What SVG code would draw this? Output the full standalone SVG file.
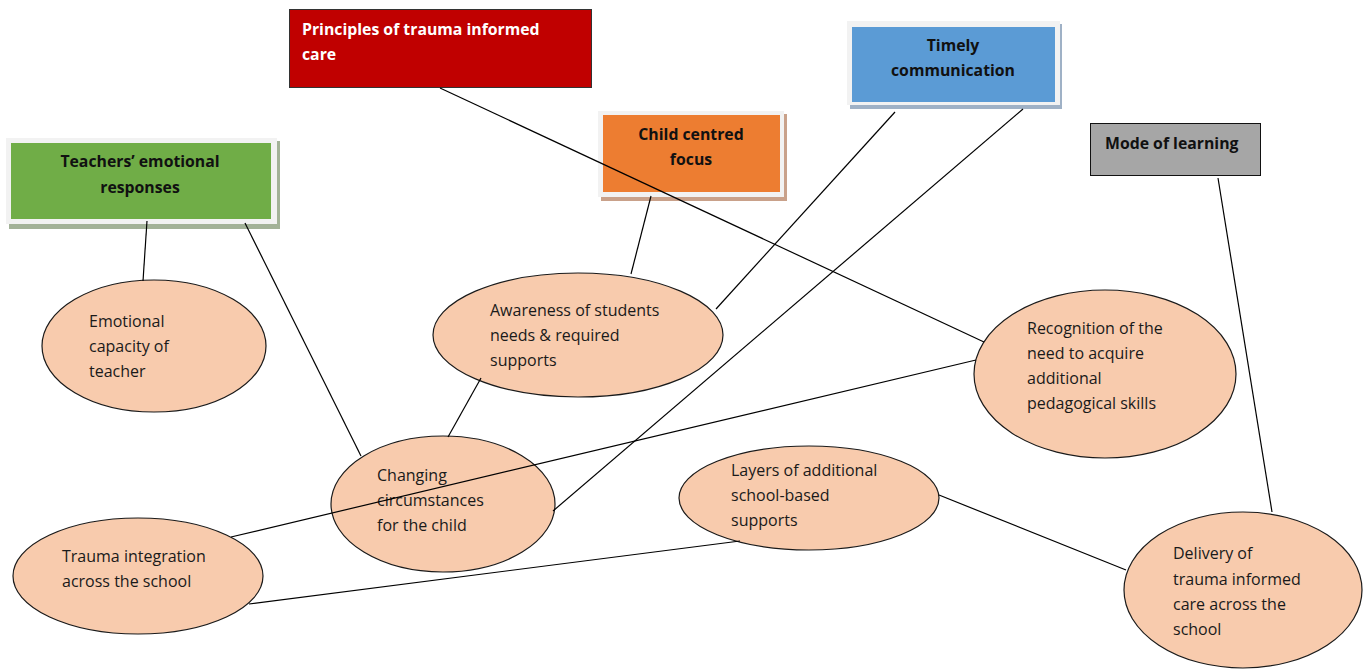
<svg xmlns="http://www.w3.org/2000/svg" width="1364" height="669" viewBox="0 0 1364 669">
<style>
.el{fill:#f8cbad;stroke:#1a1a1a;stroke-width:1.2}
.t{font-family:"Open Sans","Liberation Sans",sans-serif;font-size:16px;fill:#1a1a1a}
.b{font-family:"Open Sans","Liberation Sans",sans-serif;font-size:15.8px;font-weight:bold;fill:#111}
.frame{fill:#f2f2f2}
.c line{stroke:#000;stroke-width:1.2}
</style>
<rect width="1364" height="669" fill="#fff"/>
<g id="teachers">
<rect x="9" y="141" width="271" height="88" fill="#a3b298"/>
<rect x="6" y="138" width="271" height="86" class="frame"/>
<rect x="11" y="143" width="260" height="76" fill="#70ad47"/>
<text class="b" text-anchor="middle"><tspan x="140" y="167">Teachers’ emotional</tspan><tspan x="140" y="193">responses</tspan></text>
</g>
<g id="principles">
<rect x="289.5" y="9.5" width="302" height="78" fill="#c00000" stroke="#333" stroke-width="1"/>
<text class="b" style="fill:#fff"><tspan x="302" y="35">Principles of trauma informed</tspan><tspan x="302" y="60">care</tspan></text>
</g>
<g id="child">
<rect x="601" y="114" width="186" height="87" fill="#c9a18a"/>
<rect x="598" y="111" width="186" height="86" class="frame"/>
<rect x="603" y="115" width="177" height="77" fill="#ed7d31"/>
<text class="b" text-anchor="middle"><tspan x="691" y="140">Child centred</tspan><tspan x="691" y="165">focus</tspan></text>
</g>
<g id="timely">
<rect x="850" y="24" width="212" height="85" fill="#9fb1c6"/>
<rect x="847" y="21" width="213" height="84" class="frame"/>
<rect x="852" y="27" width="203" height="75" fill="#5b9bd5"/>
<text class="b" text-anchor="middle"><tspan x="953" y="51">Timely</tspan><tspan x="953" y="76">communication</tspan></text>
</g>
<g id="mode">
<rect x="1090.5" y="123.5" width="170" height="52" fill="#a6a6a6" stroke="#111" stroke-width="1"/>
<text class="b" x="1105" y="149">Mode of learning</text>
</g>
<g id="emotional">
<ellipse class="el" cx="154" cy="346" rx="112" ry="66"/>
<text class="t"><tspan x="89" y="327">Emotional</tspan><tspan x="89" y="352">capacity of</tspan><tspan x="89" y="377">teacher</tspan></text>
</g>
<g id="awareness">
<ellipse class="el" cx="578" cy="335" rx="145" ry="62"/>
<text class="t"><tspan x="490" y="316">Awareness of students</tspan><tspan x="490" y="341">needs &amp; required</tspan><tspan x="490" y="366">supports</tspan></text>
</g>
<g id="recognition">
<ellipse class="el" cx="1105" cy="374" rx="131" ry="84"/>
<text class="t"><tspan x="1027" y="334">Recognition of the</tspan><tspan x="1027" y="359">need to acquire</tspan><tspan x="1027" y="384">additional</tspan><tspan x="1027" y="409">pedagogical skills</tspan></text>
</g>
<g id="changing">
<ellipse class="el" cx="443" cy="504" rx="112" ry="68"/>
<text class="t"><tspan x="377" y="481">Changing</tspan><tspan x="377" y="506">circumstances</tspan><tspan x="377" y="531">for the child</tspan></text>
</g>
<g id="layers">
<ellipse class="el" cx="809" cy="498" rx="130" ry="52"/>
<text class="t"><tspan x="731" y="476">Layers of additional</tspan><tspan x="731" y="501">school-based</tspan><tspan x="731" y="526">supports</tspan></text>
</g>
<g id="trauma">
<ellipse class="el" cx="138" cy="576" rx="125" ry="58"/>
<text class="t"><tspan x="62" y="562">Trauma integration</tspan><tspan x="62" y="587">across the school</tspan></text>
</g>
<g id="delivery">
<ellipse class="el" cx="1243" cy="590" rx="119" ry="78"/>
<text class="t"><tspan x="1173" y="559">Delivery of</tspan><tspan x="1173" y="585">trauma informed</tspan><tspan x="1173" y="610">care across the</tspan><tspan x="1173" y="635">school</tspan></text>
</g>
<g class="c" id="connectors">
<line x1="147" y1="221" x2="143" y2="281"/>
<line x1="245" y1="223" x2="361" y2="456"/>
<line x1="440" y1="88" x2="984" y2="342"/>
<line x1="651" y1="196" x2="631" y2="274"/>
<line x1="895" y1="112" x2="716" y2="309"/>
<line x1="1023" y1="109" x2="553" y2="511"/>
<line x1="1218" y1="178" x2="1272" y2="512"/>
<line x1="481" y1="378" x2="448" y2="437"/>
<line x1="231" y1="537" x2="976" y2="360"/>
<line x1="249" y1="604" x2="740" y2="541"/>
<line x1="939" y1="495" x2="1126" y2="570"/>
</g>
</svg>
